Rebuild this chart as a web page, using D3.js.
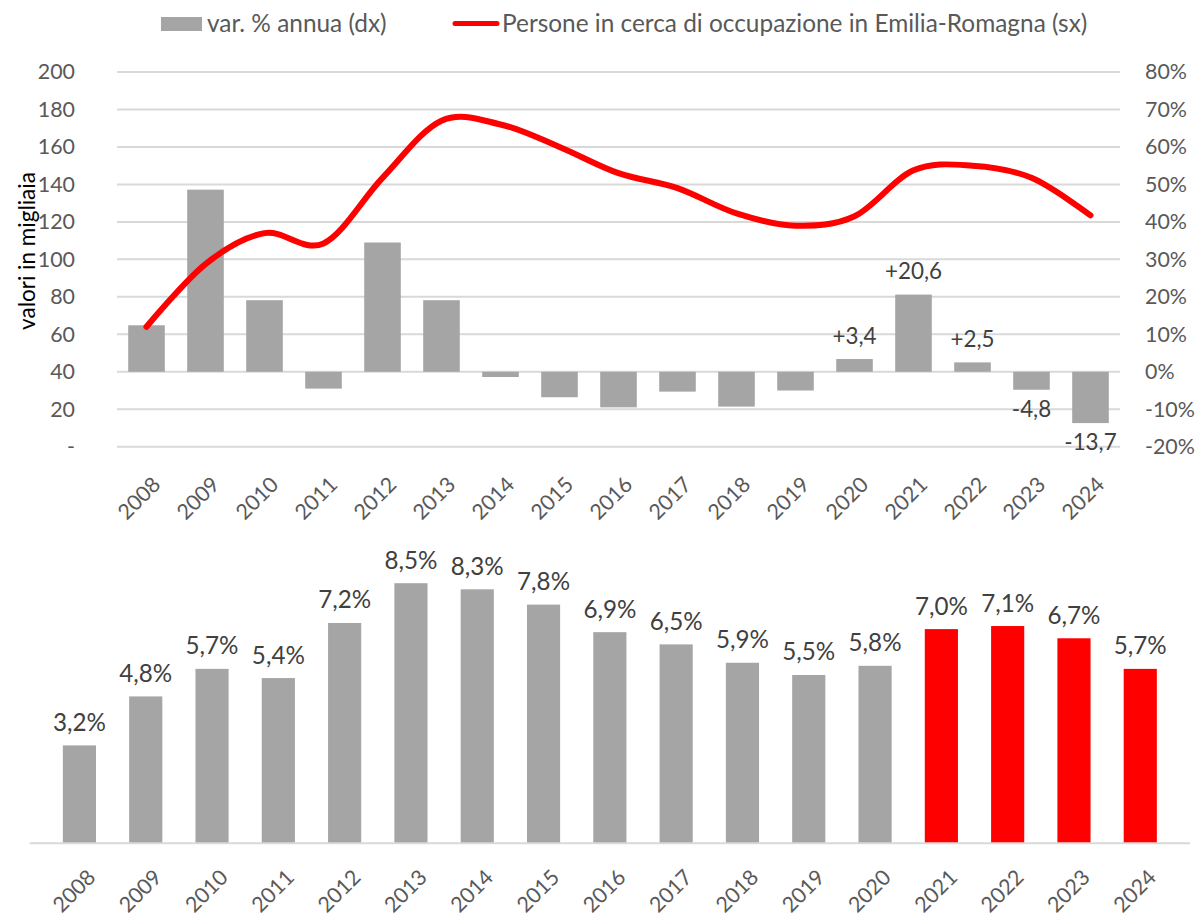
<!DOCTYPE html>
<html>
<head>
<meta charset="utf-8">
<script src="https://cdn.jsdelivr.net/npm/d3@7"></script>
<style>
  body { margin: 0; background: #fff; }
  text { font-family: Lato, "Open Sans", sans-serif; }
</style>
</head>
<body>
<svg id="svg" width="1197" height="917"></svg>
<script>
const years = ["2008","2009","2010","2011","2012","2013","2014","2015","2016",
               "2017","2018","2019","2020","2021","2022","2023","2024"];
// persone in cerca di occupazione, migliaia (asse sx)
const persone = [64, 97.5, 114, 108.5, 143.5, 174, 172, 160, 146, 138, 124.5, 118, 123, 147.5, 150, 143.5, 123.5];
// variazione % annua (asse dx)
const varPct = [12.4, 48.6, 19.1, -4.5, 34.5, 19.1, -1.4, -6.8, -9.5, -5.3, -9.3, -5.0, 3.4, 20.6, 2.5, -4.8, -13.7];
// tasso di disoccupazione %
const tasso = [3.2, 4.8, 5.7, 5.4, 7.2, 8.5, 8.3, 7.8, 6.9, 6.5, 5.9, 5.5, 5.8, 7.0, 7.1, 6.7, 5.7];
const leftTicks = [0, 20, 40, 60, 80, 100, 120, 140, 160, 180, 200];
const rightTicks = [-20, -10, 0, 10, 20, 30, 40, 50, 60, 70, 80];
const labelledYears = ["2020","2021","2022","2023","2024"];
const redYears = ["2021","2022","2023","2024"];
const legendBar = "var. % annua (dx)";
const legendLine = "Persone in cerca di occupazione in Emilia-Romagna (sx)";
const axisTitle = "valori in migliaia";

const grey = "#A5A5A5", red = "#FF0000", grid = "#D9D9D9", tickColor = "#595959", labelColor = "#404040";
const fmt = v => v.toFixed(1).replace(".", ",");

let svg = d3.select("svg");

// font size that makes a string as wide as in the original picture
function fitSize(str, target) {
  let t = svg.append("text").style("font-size", "100px").text(str);
  let w = t.node().getComputedTextLength();
  t.remove();
  return (100 * target / w).toFixed(1) + "px";
}
let tickFont = fitSize("-20%", 50);
let dataFont = fitSize("+20,6", 57);
let rateFont = fitSize("3,2%", 53);
let legendFont = fitSize(legendLine, 585);
let titleFont = fitSize(axisTitle, 158);

// ---------- top chart ----------
let x = d3.scaleBand().domain(years).range([117, 1120]).paddingInner(0.38).paddingOuter(0.19);
let yL = d3.scaleLinear().domain([0, 200]).range([446.7, 72]);
let yR = d3.scaleLinear().domain([-20, 80]).range([446.7, 72]);

let topG = svg.append("g");

topG.selectAll("line.grid")
  .data(leftTicks)
  .enter().append("line")
    .attr("x1", 117).attr("x2", 1120)
    .attr("y1", d => yL(d)).attr("y2", d => yL(d))
    .attr("stroke", grid).attr("stroke-width", 2);

let axL = topG.append("g")
  .attr("transform", "translate(117,0)")
  .call(d3.axisLeft(yL).tickValues(leftTicks).tickSize(0).tickPadding(42).tickFormat(d => d === 0 ? "-" : d));
axL.select(".domain").remove();

let axR = topG.append("g")
  .attr("transform", "translate(1120,0)")
  .call(d3.axisRight(yR).tickValues(rightTicks).tickSize(0).tickPadding(25).tickFormat(d => d + "%"));
axR.select(".domain").remove();

let axX = topG.append("g")
  .attr("transform", "translate(0," + yL(0) + ")")
  .call(d3.axisBottom(x).tickSize(0));
axX.select(".domain").remove();
axX.selectAll("text")
  .attr("x", 0).attr("y", 0).attr("dy", "0.35em")
  .attr("text-anchor", "end")
  .attr("transform", "translate(10,34) rotate(-45)");

[axL, axR, axX].forEach(a => a.selectAll("text")
  .style("font-size", tickFont).attr("fill", tickColor).style("font-family", "Lato, 'Open Sans', sans-serif"));

let barData = years.map((y, i) => ({ year: y, value: varPct[i] }));
topG.selectAll("rect.var")
  .data(barData)
  .enter().append("rect")
    .attr("x", d => x(d.year))
    .attr("width", x.bandwidth())
    .attr("y", d => yR(Math.max(0, d.value)))
    .attr("height", d => Math.abs(yR(d.value) - yR(0)))
    .attr("fill", grey);

topG.selectAll("text.varlab")
  .data(barData.filter(d => labelledYears.includes(d.year)))
  .enter().append("text")
    .attr("x", d => x(d.year) + x.bandwidth() / 2)
    .attr("y", d => d.value >= 0 ? yR(d.value) - 23 : yR(d.value) + 19)
    .attr("dy", "0.35em")
    .attr("text-anchor", "middle")
    .style("font-size", dataFont)
    .attr("fill", labelColor)
    .text(d => (d.value > 0 ? "+" : "") + fmt(d.value));

let lineData = years.map((y, i) => ({ year: y, value: persone[i] }));
let line = d3.line()
  .x(d => x(d.year) + x.bandwidth() / 2)
  .y(d => yL(d.value))
  .curve(d3.curveCardinal.tension(0));

topG.append("path")
  .datum(lineData)
  .attr("fill", "none")
  .attr("stroke", red)
  .attr("stroke-width", 6)
  .attr("stroke-linejoin", "round")
  .attr("stroke-linecap", "round")
  .attr("d", line);

topG.append("text")
  .attr("transform", "translate(27," + 251 + ") rotate(-90)")
  .attr("text-anchor", "middle")
  .attr("dy", "0.35em")
  .style("font-size", titleFont)
  .attr("fill", "#000")
  .text(axisTitle);

// legend
let leg = svg.append("g");
leg.append("rect").attr("x", 161).attr("y", 17).attr("width", 41).attr("height", 14).attr("fill", grey);
leg.append("text").attr("x", 207).attr("y", 23.5).attr("dy", "0.35em")
  .style("font-size", legendFont).attr("fill", tickColor).text(legendBar);
leg.append("line").attr("x1", 455).attr("x2", 497).attr("y1", 23.5).attr("y2", 23.5)
  .attr("stroke", red).attr("stroke-width", 5).attr("stroke-linecap", "round");
leg.append("text").attr("x", 502).attr("y", 23.5).attr("dy", "0.35em")
  .style("font-size", legendFont).attr("fill", tickColor).text(legendLine);

// ---------- bottom chart ----------
let x2 = d3.scaleBand().domain(years).range([29.7, 1190]).padding(0.5);
let y2 = d3.scaleLinear().domain([0, 9]).range([843.3, 567.9]);

let botG = svg.append("g");
let rateData = years.map((y, i) => ({ year: y, value: tasso[i] }));

botG.selectAll("rect.rate")
  .data(rateData)
  .enter().append("rect")
    .attr("x", d => x2(d.year))
    .attr("width", x2.bandwidth())
    .attr("y", d => y2(d.value))
    .attr("height", d => y2(0) - y2(d.value))
    .attr("fill", d => redYears.includes(d.year) ? red : grey);

botG.append("line")
  .attr("x1", 29.7).attr("x2", 1190)
  .attr("y1", y2(0)).attr("y2", y2(0))
  .attr("stroke", grid).attr("stroke-width", 2);

botG.selectAll("text.ratelab")
  .data(rateData)
  .enter().append("text")
    .attr("x", d => x2(d.year) + x2.bandwidth() / 2)
    .attr("y", d => y2(d.value) - 23)
    .attr("dy", "0.35em")
    .attr("text-anchor", "middle")
    .style("font-size", rateFont)
    .attr("fill", labelColor)
    .text(d => fmt(d.value) + "%");

let axX2 = botG.append("g")
  .attr("transform", "translate(0," + y2(0) + ")")
  .call(d3.axisBottom(x2).tickSize(0));
axX2.select(".domain").remove();
axX2.selectAll("text")
  .attr("x", 0).attr("y", 0).attr("dy", "0.35em")
  .attr("text-anchor", "end")
  .style("font-size", tickFont).attr("fill", tickColor)
  .style("font-family", "Lato, 'Open Sans', sans-serif")
  .attr("transform", "translate(12,30) rotate(-45)");
</script>
</body>
</html>
